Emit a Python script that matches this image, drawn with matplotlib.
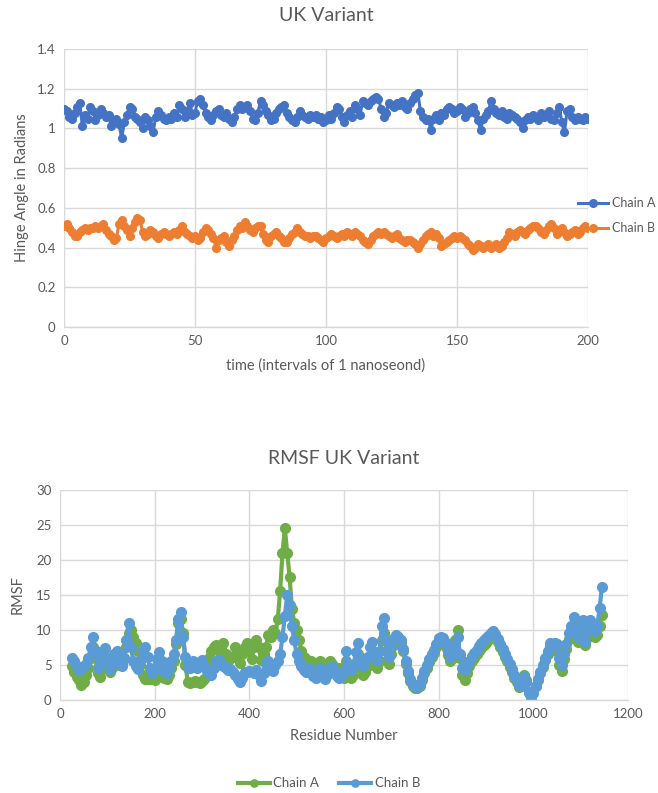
import matplotlib
matplotlib.use("Agg")
import matplotlib.pyplot as plt
from matplotlib.ticker import FuncFormatter, MultipleLocator

plt.rcParams['font.family'] = ['Lato', 'DejaVu Sans']

# ---------------- Top chart data: hinge angle ----------------
time_ns = list(range(0, 201))
hinge_chain_a = [
    1.10, 1.09, 1.06, 1.05, 1.08, 1.11, 1.13, 1.01, 1.07, 1.05,
    1.11, 1.09, 1.04, 1.07, 1.10, 1.08, 1.06, 1.07, 1.01, 1.04,
    1.05, 1.02, 0.95, 1.03, 1.07, 1.11, 1.10, 1.06, 1.05, 1.03,
    1.00, 1.06, 1.04, 1.01, 0.98, 1.06, 1.09, 1.07, 1.05, 1.04,
    1.06, 1.05, 1.08, 1.06, 1.12, 1.10, 1.06, 1.09, 1.13, 1.07,
    1.08, 1.14, 1.15, 1.12, 1.08, 1.06, 1.04, 1.07, 1.09, 1.10,
    1.07, 1.06, 1.08, 1.05, 1.03, 1.06, 1.10, 1.12, 1.10, 1.11,
    1.12, 1.09, 1.05, 1.04, 1.08, 1.14, 1.12, 1.09, 1.07, 1.04,
    1.05, 1.08, 1.10, 1.11, 1.12, 1.08, 1.06, 1.04, 1.03, 1.06,
    1.09, 1.07, 1.06, 1.05, 1.07, 1.06, 1.07, 1.05, 1.06, 1.03,
    1.04, 1.07, 1.05, 1.08, 1.11, 1.10, 1.06, 1.03, 1.07, 1.09,
    1.06, 1.12, 1.10, 1.07, 1.14, 1.13, 1.12, 1.14, 1.15, 1.16,
    1.15, 1.10, 1.06, 1.08, 1.13, 1.12, 1.11, 1.13, 1.12, 1.14,
    1.11, 1.10, 1.13, 1.15, 1.17, 1.18, 1.09, 1.06, 1.04, 1.05,
    0.99, 1.05, 1.07, 1.04, 1.08, 1.07, 1.10, 1.11, 1.10, 1.08,
    1.09, 1.11, 1.10, 1.06, 1.08, 1.10, 1.11, 1.08, 1.04, 0.99,
    1.05, 1.07, 1.09, 1.14, 1.10, 1.08, 1.07, 1.09, 1.06, 1.05,
    1.08, 1.07, 1.06, 1.05, 1.03, 1.00, 1.04, 1.06, 1.05, 1.07,
    1.06, 1.04, 1.08, 1.06, 1.07, 1.09, 1.05, 1.04, 1.08, 1.11,
    1.03, 0.98, 1.09, 1.10, 1.06, 1.04, 1.06, 1.05, 1.04, 1.06,
    1.05,
]
hinge_chain_b = [
    0.51, 0.52, 0.50, 0.48, 0.46, 0.46, 0.48, 0.49, 0.50, 0.49,
    0.50, 0.50, 0.51, 0.50, 0.51, 0.52, 0.49, 0.47, 0.46, 0.44,
    0.45, 0.52, 0.54, 0.51, 0.49, 0.46, 0.50, 0.53, 0.55, 0.54,
    0.48, 0.46, 0.47, 0.49, 0.48, 0.46, 0.45, 0.47, 0.48, 0.47,
    0.46, 0.47, 0.48, 0.47, 0.49, 0.51, 0.48, 0.47, 0.46, 0.45,
    0.46, 0.44, 0.45, 0.48, 0.50, 0.49, 0.47, 0.45, 0.40, 0.44,
    0.45, 0.46, 0.43, 0.41, 0.44, 0.46, 0.49, 0.51, 0.50, 0.53,
    0.51, 0.49, 0.48, 0.50, 0.51, 0.51, 0.47, 0.44, 0.43, 0.46,
    0.47, 0.48, 0.46, 0.45, 0.43, 0.43, 0.45, 0.47, 0.48, 0.50,
    0.48, 0.47, 0.46, 0.46, 0.45, 0.46, 0.46, 0.45, 0.44, 0.43,
    0.45, 0.46, 0.47, 0.46, 0.45, 0.46, 0.47, 0.46, 0.48, 0.47,
    0.46, 0.48, 0.47, 0.46, 0.44, 0.43, 0.42, 0.44, 0.46, 0.47,
    0.48, 0.47, 0.48, 0.47, 0.46, 0.45, 0.46, 0.47, 0.45, 0.44,
    0.43, 0.44, 0.44, 0.43, 0.42, 0.40, 0.42, 0.44, 0.46, 0.47,
    0.48, 0.46, 0.47, 0.45, 0.41, 0.42, 0.43, 0.44, 0.45, 0.46,
    0.45, 0.46, 0.45, 0.44, 0.42, 0.41, 0.39, 0.40, 0.42, 0.41,
    0.40, 0.41, 0.42, 0.40, 0.41, 0.42, 0.40, 0.41, 0.43, 0.45,
    0.48, 0.47, 0.46, 0.48, 0.49, 0.48, 0.47, 0.49, 0.50, 0.51,
    0.51, 0.50, 0.48, 0.47, 0.49, 0.51, 0.52, 0.50, 0.47, 0.49,
    0.50, 0.48, 0.46, 0.47, 0.48, 0.49, 0.47, 0.48, 0.50, 0.51,
    0.50,
]

# ---------------- Bottom chart data: RMSF ----------------
residues = list(range(25, 1146, 5))
rmsf_chain_a = [
    4.8, 4.0, 3.3, 2.8, 2.2, 2.6, 3.5, 4.5, 6.0, 7.5,      # 25-70
    6.0, 3.8, 3.3, 4.5, 5.5, 5.0, 4.0, 4.6, 5.3, 5.6,      # 75-120
    5.0, 5.2, 6.0, 7.5, 9.5, 10.0, 9.0, 8.1, 7.0, 5.0,     # 125-170
    3.6, 3.0, 3.0, 3.0, 3.0, 2.9, 3.8, 4.8, 3.8, 3.1,      # 175-220
    3.0, 3.5, 4.5, 5.5, 8.0, 11.0, 11.5, 9.5, 5.0, 2.6,    # 225-270
    2.4, 2.6, 2.7, 2.5, 2.4, 2.7, 3.0, 4.9, 6.0, 7.0,      # 275-320
    7.5, 7.8, 7.0, 7.5, 8.1, 6.5, 5.5, 6.0, 6.2, 7.5,      # 325-370
    6.5, 5.3, 6.5, 7.5, 8.1, 7.0, 5.8, 7.5, 8.6, 7.5,      # 375-420
    5.7, 6.5, 7.5, 9.3, 9.0, 10.0, 9.5, 11.5, 15.5, 21.0,  # 425-470
    24.5, 21.0, 17.6, 13.0, 11.0, 10.0, 8.5, 7.0, 6.2, 5.8,  # 475-520
    5.5, 5.5, 5.0, 4.8, 5.3, 5.5, 4.6, 4.3, 4.8, 5.5,      # 525-570
    5.2, 4.5, 4.4, 4.6, 3.5, 3.2, 5.5, 3.8, 3.2, 3.6,      # 575-620
    5.3, 6.5, 4.5, 3.5, 4.0, 4.8, 6.0, 6.8, 5.5, 4.5,      # 625-670
    5.5, 8.5, 9.5, 7.0, 5.2, 6.5, 7.8, 8.3, 8.5, 8.2,      # 675-720
    7.0, 5.2, 3.8, 2.7, 2.0, 1.7, 1.7, 2.0, 2.9, 3.8,      # 725-770
    4.6, 5.4, 6.1, 6.7, 7.5, 8.3, 8.5, 8.3, 7.6, 6.4,      # 775-820
    5.6, 6.0, 8.5, 10.0, 6.0, 3.5, 2.9, 3.8, 4.8, 5.5,     # 825-870
    6.0, 6.5, 7.0, 7.4, 7.9, 8.2, 8.6, 9.0, 9.3, 9.0,      # 875-920
    8.3, 7.6, 6.9, 6.2, 5.5, 4.7, 4.0, 3.2, 2.5, 1.8,      # 925-970
    2.5, 3.6, 2.8, 1.2, 0.8, 1.2, 2.0, 2.8, 3.8, 4.7,      # 975-1020
    5.7, 6.6, 7.5, 7.3, 7.5, 7.0, 5.0, 4.2, 5.8, 7.3,      # 1025-1070
    8.7, 9.8, 10.8, 9.5, 8.3, 9.5, 10.6, 7.8, 9.0, 10.4,   # 1075-1120
    9.8, 9.0, 9.3, 10.5, 12.2,                             # 1125-1145
]
rmsf_chain_b = [
    6.0, 5.6, 4.8, 4.3, 4.5, 4.8, 5.2, 6.0, 7.5, 9.0,      # 25-70
    7.0, 4.6, 5.0, 6.2, 7.4, 6.0, 4.4, 5.2, 6.5, 7.0,      # 75-120
    5.8, 4.9, 6.0, 8.5, 11.0, 7.5, 5.6, 4.8, 4.4, 5.5,     # 125-170
    7.0, 7.6, 6.2, 4.5, 3.9, 4.6, 5.8, 6.8, 5.6, 4.2,      # 175-220
    3.8, 4.5, 5.5, 6.5, 8.5, 11.5, 12.6, 9.0, 6.2, 4.5,    # 225-270
    4.6, 5.5, 5.0, 4.5, 4.8, 5.7, 4.8, 4.2, 3.8, 3.6,      # 275-320
    4.5, 5.5, 5.7, 5.3, 4.8, 4.5, 4.3, 4.4, 4.0, 3.6,      # 325-370
    3.0, 2.6, 3.2, 4.0, 4.0, 4.2, 4.0, 3.8, 4.3, 3.6,      # 375-420
    2.7, 3.8, 5.2, 5.5, 4.3, 4.2, 5.0, 5.5, 6.5, 9.0,      # 425-470
    12.0, 15.0, 13.5, 10.5, 8.5, 6.5, 5.5, 4.8, 4.3, 4.0,  # 475-520
    4.6, 4.0, 3.4, 3.2, 4.0, 4.6, 3.8, 3.0, 3.6, 4.5,      # 525-570
    4.8, 4.0, 3.4, 3.2, 3.6, 4.2, 7.0, 5.0, 4.3, 5.0,      # 575-620
    6.8, 8.1, 6.0, 4.8, 5.5, 6.2, 7.5, 8.3, 6.8, 5.7,      # 625-670
    7.0, 10.5, 11.7, 8.5, 6.2, 7.5, 8.8, 9.3, 9.0, 8.5,    # 675-720
    7.3, 5.6, 4.2, 3.0, 2.3, 2.0, 1.9, 2.3, 3.2, 4.2,      # 725-770
    5.0, 5.8, 6.5, 7.1, 8.0, 8.8, 9.0, 8.9, 8.2, 7.0,      # 775-820
    6.2, 6.5, 7.8, 9.0, 6.5, 4.5, 4.3, 5.0, 5.6, 6.3,      # 825-870
    6.7, 7.2, 7.7, 8.1, 8.6, 8.8, 9.2, 9.6, 9.8, 9.4,      # 875-920
    8.7, 8.0, 7.3, 6.6, 5.9, 5.1, 4.4, 3.6, 2.9, 2.1,      # 925-970
    2.0, 3.3, 2.5, 1.0, 0.1, 1.0, 2.0, 3.0, 4.0, 5.0,      # 975-1020
    6.0, 7.0, 8.1, 7.8, 8.1, 8.0, 6.0, 5.0, 6.5, 8.0,      # 1025-1070
    9.5, 10.5, 11.9, 10.5, 9.0, 10.5, 11.4, 8.3, 9.8, 11.4,  # 1075-1120
    10.5, 9.8, 10.5, 13.1, 16.2,                           # 1125-1145
]

TEXT = '#595959'
GRID = '#D9D9D9'

fig = plt.figure(figsize=(6.58, 7.93), dpi=100)


def style_axes(ax):
    for side in ('top', 'right', 'left'):
        ax.spines[side].set_visible(False)
    ax.spines['bottom'].set_color(GRID)
    ax.spines['bottom'].set_linewidth(1.0)
    ax.grid(True, color=GRID, linewidth=1.0)
    ax.set_axisbelow(True)
    ax.tick_params(axis='both', length=0, colors=TEXT, labelsize=9.5, pad=6)


fmt = FuncFormatter(lambda v, p: f'{v:g}')

# ---- Top chart ----
ax1 = fig.add_axes([0.0973, 0.5876, 0.7964, 0.3506])
style_axes(ax1)
la, = ax1.plot(time_ns, hinge_chain_a, color='#4472C4', lw=2.2, marker='o',
               markersize=5.5, label='Chain A')
lb, = ax1.plot(time_ns, hinge_chain_b, color='#ED7D31', lw=2.2, marker='o',
               markersize=5.5, label='Chain B')
ax1.set_xlim(0, 200)
ax1.set_ylim(0, 1.4)
ax1.xaxis.set_major_locator(MultipleLocator(50))
ax1.yaxis.set_major_locator(MultipleLocator(0.2))
ax1.yaxis.set_major_formatter(fmt)
ax1.set_title('UK Variant', color=TEXT, fontsize=14, pad=20)
ax1.set_xlabel('time (intervals of 1 nanoseond)', color=TEXT, fontsize=10.5, labelpad=8)
ax1.set_ylabel('Hinge Angle in Radians', color=TEXT, fontsize=10.5, labelpad=6)
fig.legend(handles=[la, lb], loc='center left', bbox_to_anchor=(0.879, 0.728),
           frameon=False, fontsize=9, labelcolor=TEXT, handlelength=2.4,
           handletextpad=0.25, labelspacing=1.05, borderpad=0, borderaxespad=0)

# ---- Bottom chart ----
ax2 = fig.add_axes([0.0912, 0.1173, 0.8632, 0.2648])
style_axes(ax2)
ga, = ax2.plot(residues, rmsf_chain_a, color='#70AD47', lw=3.0, marker='o',
               markersize=7, label='Chain A')
gb, = ax2.plot(residues, rmsf_chain_b, color='#5B9BD5', lw=3.0, marker='o',
               markersize=7, label='Chain B')
ax2.set_xlim(0, 1200)
ax2.set_ylim(0, 30)
ax2.xaxis.set_major_locator(MultipleLocator(200))
ax2.yaxis.set_major_locator(MultipleLocator(5))
ax2.set_title('RMSF UK Variant', color=TEXT, fontsize=14, pad=19)
ax2.set_xlabel('Residue Number', color=TEXT, fontsize=10.5, labelpad=6)
ax2.set_ylabel('RMSF', color=TEXT, fontsize=10.5, labelpad=8)
fig.legend(handles=[ga, gb], loc='center', bbox_to_anchor=(0.50, 0.012),
           ncol=2, frameon=False, fontsize=9.5, labelcolor=TEXT,
           handlelength=2.4, handletextpad=0.3, columnspacing=1.5,
           markerscale=0.75)

fig.savefig('out.png', dpi=100)
